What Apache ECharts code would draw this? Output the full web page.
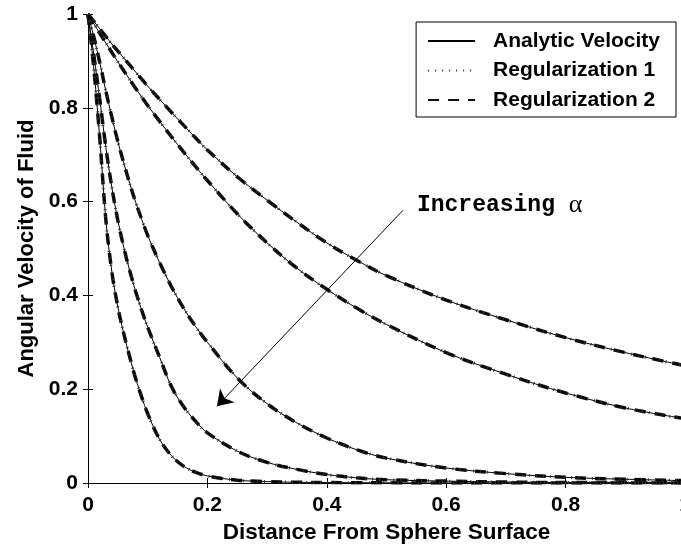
<!DOCTYPE html>
<html>
<head>
<meta charset="utf-8">
<script src="https://cdn.jsdelivr.net/npm/echarts@6/dist/echarts.min.js"></script>
<style>html,body{margin:0;padding:0;background:#fff}#c{width:681px;height:549px}</style>
</head>
<body>
<div id="c"></div>
<script>
// Distance from sphere surface (shared x grid)
const distance = [0, 0.01, 0.02, 0.03, 0.04, 0.05, 0.06, 0.07, 0.08, 0.09, 0.1, 0.12, 0.14, 0.16, 0.18, 0.2, 0.25, 0.3, 0.35, 0.4, 0.45, 0.5, 0.6, 0.7, 0.8, 0.9, 1.0];
// Angular velocity for five alpha values (increasing alpha = faster decay)
const alpha1 = [1, 0.984, 0.968, 0.952, 0.936, 0.921, 0.906, 0.891, 0.876, 0.861, 0.846, 0.818, 0.79, 0.763, 0.736, 0.71, 0.653, 0.603, 0.556, 0.512, 0.475, 0.442, 0.39, 0.348, 0.31, 0.278, 0.25];
const alpha2 = [1, 0.979, 0.958, 0.938, 0.918, 0.898, 0.879, 0.86, 0.841, 0.823, 0.805, 0.771, 0.738, 0.706, 0.675, 0.645, 0.574, 0.512, 0.458, 0.413, 0.373, 0.338, 0.278, 0.232, 0.192, 0.16, 0.137];
const alpha3 = [1, 0.95, 0.895, 0.835, 0.78, 0.728, 0.682, 0.638, 0.598, 0.562, 0.528, 0.47, 0.418, 0.373, 0.334, 0.30, 0.224, 0.169, 0.128, 0.096, 0.071, 0.053, 0.032, 0.02, 0.012, 0.008, 0.005];
const alpha4 = [1, 0.91, 0.815, 0.715, 0.63, 0.56, 0.502, 0.452, 0.408, 0.368, 0.332, 0.268, 0.205, 0.163, 0.132, 0.107, 0.068, 0.044, 0.029, 0.018, 0.011, 0.007, 0.004, 0.002, 0.001, 0.001, 0.0005];
const alpha5 = [1, 0.88, 0.73, 0.56, 0.45, 0.375, 0.318, 0.268, 0.222, 0.183, 0.148, 0.093, 0.058, 0.036, 0.023, 0.015, 0.006, 0.003, 0.0015, 0.001, 0.0005, 0.0003, 0, 0, 0, 0, 0];
const curves = [alpha1, alpha2, alpha3, alpha4, alpha5];
const legendNames = ['Analytic Velocity', 'Regularization 1', 'Regularization 2'];
// annotation (data units)
const arrowFrom = [0.5276, 0.5815];
const arrowTo = [0.216, 0.1635];
const labelAt = [0.551, 0.592];
const labelText = 'Increasing ';

const FONT = 'Liberation Sans, Arial, Helvetica, sans-serif';
const chart = echarts.init(document.getElementById('c'), null, {renderer: 'canvas'});

function pairs(ys) { return distance.map((x, i) => [x, ys[i]]); }

const series = [];
curves.forEach((ys, ci) => {
  const d = pairs(ys);
  series.push({
    name: legendNames[2], type: 'line', data: d, symbol: 'none', smooth: 0.35,
    lineStyle: {color: '#111', width: 3.5, type: [11, 9]}, z: 2, silent: true
  });
  const solid = {
    name: legendNames[0], type: 'line', data: d, symbol: 'none', smooth: 0.35,
    lineStyle: {color: '#000', width: 1, type: 'solid'}, z: 3, silent: true
  };
  if (ci === 0) {
    solid.markLine = {
      silent: true, symbol: ['none', 'arrow'], symbolSize: 15, animation: false,
      label: {show: false},
      lineStyle: {color: '#000', width: 1, type: 'solid'},
      data: [[{coord: arrowFrom}, {coord: arrowTo}]]
    };
    solid.markPoint = {
      silent: true, symbol: 'circle', symbolSize: 0, animation: false,
      label: {
        show: true, position: 'right', distance: 0,
        formatter: '{a|' + labelText + '}{b|α}',
        rich: {
          a: {fontFamily: 'Liberation Mono, Courier New, monospace', fontWeight: 'bold', fontSize: 23, color: '#000'},
          b: {fontFamily: 'Liberation Serif, Times New Roman, serif', fontSize: 26, color: '#000'}
        }
      },
      data: [{coord: labelAt}]
    };
  }
  series.push(solid);
  series.push({
    name: legendNames[1], type: 'line', data: d, symbol: 'none', smooth: 0.35,
    lineStyle: {color: '#333', width: 3, type: [1, 6]}, z: 4, silent: true
  });
});

const axisCommon = {
  type: 'value', min: 0, max: 1, interval: 0.2,
  axisLine: {show: true, lineStyle: {color: '#000', width: 1}},
  axisTick: {show: true, inside: true, length: 5, lineStyle: {color: '#000', width: 1}},
  splitLine: {show: false}
};

chart.setOption({
  backgroundColor: '#fff',
  animation: false,
  grid: {left: 88, right: -4, top: 14, bottom: 66, containLabel: false, outerBoundsMode: 'none'},
  legend: {
    data: legendNames, orient: 'vertical', right: 5, top: 22, align: 'left',
    padding: [8.5, 16, 6.5, 11], itemGap: 8.5, itemWidth: 47, itemHeight: 14,
    backgroundColor: '#fff', borderColor: '#000', borderWidth: 1, borderRadius: 0,
    itemStyle: {color: 'rgba(0,0,0,0)', borderWidth: 0},
    textStyle: {fontFamily: FONT, fontWeight: 'bold', fontSize: 21, color: '#000', lineHeight: 21, padding: [0, 0, 0, 13]},
    selectedMode: false
  },
  xAxis: [
    Object.assign({}, axisCommon, {
      position: 'bottom',
      name: 'Distance From Sphere Surface', nameLocation: 'middle', nameGap: 36,
      nameTextStyle: {fontFamily: FONT, fontWeight: 'bold', fontSize: 22.5, color: '#000'},
      axisLabel: {show: true, margin: 12, fontFamily: FONT, fontWeight: 'bold', fontSize: 21, color: '#000',
        formatter: v => String(+v.toFixed(1)), showMinLabel: true, showMaxLabel: true, hideOverlap: false}
    }),
    Object.assign({}, axisCommon, {position: 'top', axisLabel: {show: false}})
  ],
  yAxis: [
    Object.assign({}, axisCommon, {
      position: 'left',
      name: 'Angular Velocity of Fluid', nameLocation: 'middle', nameGap: 50,
      nameTextStyle: {fontFamily: FONT, fontWeight: 'bold', fontSize: 22, color: '#000'},
      axisLabel: {show: true, margin: 10, fontFamily: FONT, fontWeight: 'bold', fontSize: 21, color: '#000',
        formatter: v => String(+v.toFixed(1)), showMinLabel: true, showMaxLabel: true}
    }),
    Object.assign({}, axisCommon, {position: 'right', axisLabel: {show: false}})
  ],
  series: series
});
</script>
</body>
</html>
